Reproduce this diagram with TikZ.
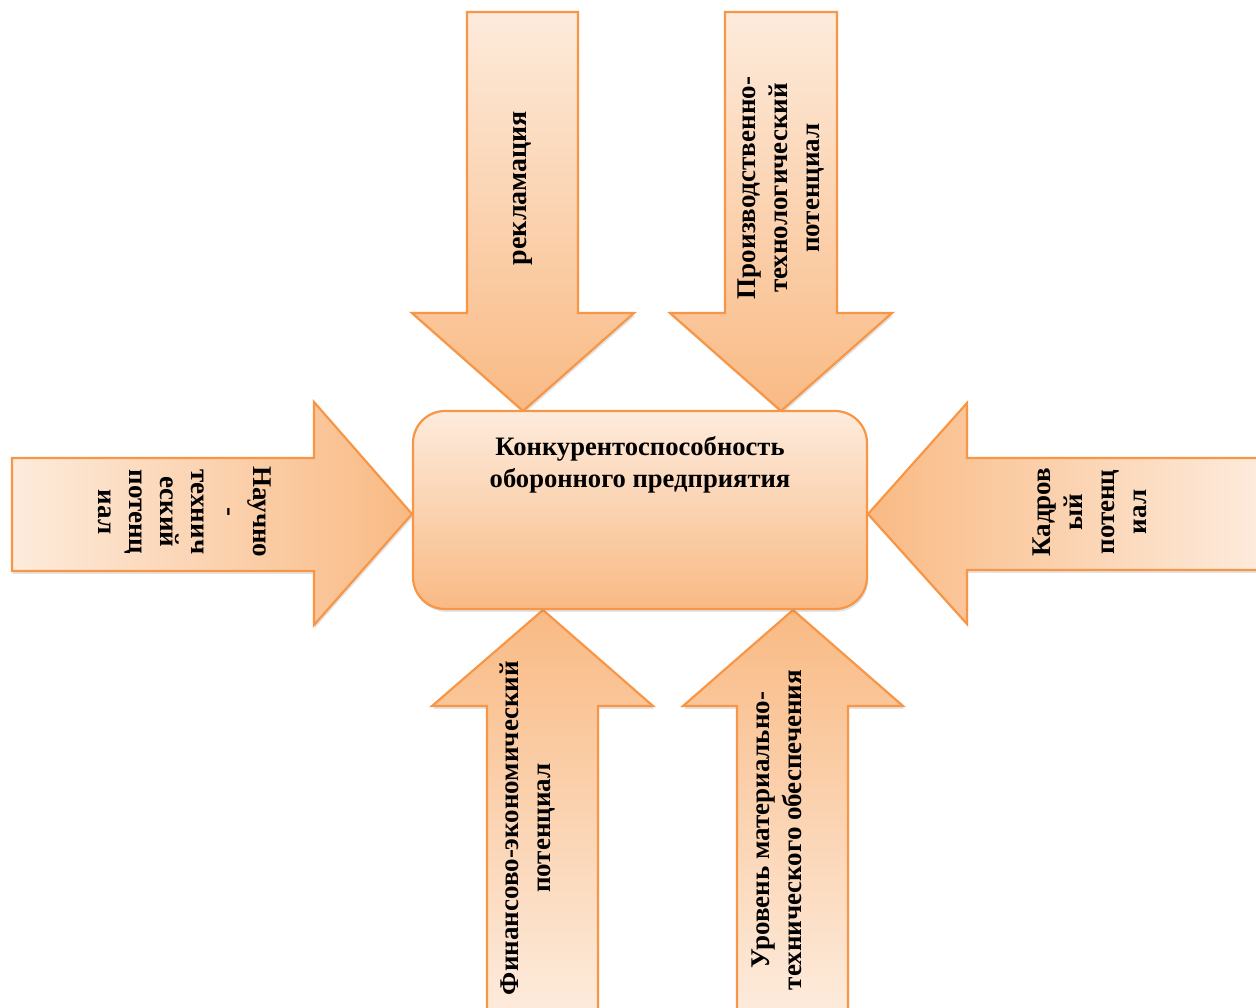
\documentclass[tikz,border=0pt]{standalone}
\usepackage{fontspec}
\setmainfont{Liberation Serif}
\usetikzlibrary{shadows}
\definecolor{tailc}{RGB}{253,235,220}
\definecolor{headc}{RGB}{249,186,132}
\definecolor{edgec}{RGB}{247,150,70}
\tikzset{
  blockarrow/.style={draw=edgec, line width=1.1pt, line join=miter,
    drop shadow={opacity=0.22, shadow xshift=0.6pt, shadow yshift=-1.4pt}},
  lbl/.style={font=\bfseries\fontsize{13.5}{16}\selectfont, align=center, inner sep=0pt},
}
\begin{document}
\begin{tikzpicture}[x=0.5pt, y=-0.5pt]
\useasboundingbox (0,0) rectangle (1256,1007);
\clip (0,0) rectangle (1256,1007);
% top arrows
\path[blockarrow, top color=tailc, bottom color=headc]
  (467,12) -- (578,12) -- (578,313) -- (634,313) -- (523,411) -- (412,313) -- (467,313) -- cycle;
\path[blockarrow, top color=tailc, bottom color=headc]
  (725,12) -- (837,12) -- (837,313) -- (892,313) -- (781,411) -- (670,313) -- (725,313) -- cycle;
% left arrow
\path[blockarrow, left color=tailc, right color=headc]
  (12,458) -- (314,458) -- (314,402) -- (412,514) -- (314,625) -- (314,571) -- (12,571) -- cycle;
% right arrow
\path[blockarrow, right color=tailc, left color=headc]
  (1262,458) -- (967,458) -- (967,403) -- (868,514) -- (967,624) -- (967,570) -- (1262,570) -- cycle;
% bottom arrows
\path[blockarrow, bottom color=tailc, top color=headc]
  (487,1012) -- (487,706) -- (432,706) -- (543,610) -- (653,706) -- (598,706) -- (598,1012) -- cycle;
\path[blockarrow, bottom color=tailc, top color=headc]
  (737,1012) -- (737,706) -- (683,706) -- (793,610) -- (903,706) -- (848,706) -- (848,1012) -- cycle;
% central box
\path[blockarrow, rounded corners=16pt, top color=tailc, bottom color=headc]
  (413,411) rectangle (867,609);
% labels
\node[lbl, font=\bfseries\fontsize{13.3}{16}\selectfont] (core) at (640,465) {Конкурентоспособность\\оборонного предприятия};
\node[lbl, font=\bfseries\fontsize{14}{16}\selectfont, rotate=90] (rekl) at (523,188) {рекламация};
\node[lbl, rotate=90] (proizv) at (781,188) {Производственно-\\технологический\\потенциал};
\node[lbl, rotate=-90, font=\bfseries\fontsize{13.5}{15.5}\selectfont] (nauch) at (185,512) {Научно\\-\\технич\\еский\\потенц\\иал};
\node[lbl, rotate=90] (kadr) at (1090,512) {Кадров\\ый\\потенц\\иал};
\node[lbl, rotate=90] (fin) at (528,828) {Финансово-экономический\\потенциал};
\node[lbl, rotate=90] (urov) at (777,830) {Уровень материально-\\технического обеспечения};
\end{tikzpicture}
\end{document}
